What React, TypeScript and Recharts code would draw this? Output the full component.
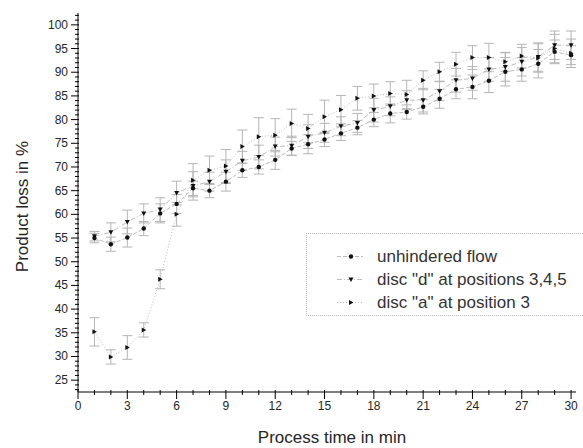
import { LineChart, Line, XAxis, YAxis, ErrorBar, Legend } from "recharts";

const times = [1, 2, 3, 4, 5, 6, 7, 8, 9, 10, 11, 12, 13, 14, 15, 16, 17, 18, 19, 20, 21, 22, 23, 24, 25, 26, 27, 28, 29, 30];

const unhindered = [55.0, 53.7, 55.1, 57.0, 60.2, 62.2, 65.5, 65.0, 66.9, 69.3, 70.0, 71.5, 73.9, 74.8, 75.8, 77.1, 78.3, 80.0, 81.3, 81.6, 82.7, 84.4, 86.4, 86.9, 88.2, 90.1, 90.6, 91.8, 94.3, 93.6];
const unhinderedErr = [1, 1.5, 2, 1.5, 2, 2, 1.5, 1.5, 2, 1.5, 1.5, 2, 1.5, 2, 1.5, 1.5, 1.5, 1.5, 2, 1.5, 1.5, 2, 2, 2.5, 2.5, 3, 2.5, 3, 2.5, 2];

const discD = [55.4, 56.2, 58.4, 60.2, 61.0, 64.5, 66.0, 66.9, 69.0, 71.3, 72.1, 74.3, 74.5, 76.4, 77.2, 78.6, 79.3, 82.0, 82.8, 84.1, 84.1, 86.0, 88.3, 88.7, 90.6, 91.1, 92.2, 93.2, 95.7, 95.7];
const discDErr = [1, 2, 2.5, 2, 2.5, 2.5, 3, 2, 2.5, 2, 2.5, 2, 2, 2.5, 2, 2, 2, 2.5, 2, 2, 2.5, 2, 2.5, 2.5, 2.5, 3, 3, 3, 3, 3];

const discA = [35.2, 29.9, 31.9, 35.6, 46.3, 60.0, 67.2, 69.3, 70.2, 74.3, 76.4, 76.7, 79.2, 78.1, 80.6, 82.1, 84.5, 85.0, 85.5, 85.3, 88.3, 90.1, 91.7, 93.1, 93.1, 92.2, 93.4, 93.0, 95.0, 94.0];
const discAErr = [3, 1.5, 2.5, 1.5, 2, 2.5, 3.5, 3, 3.5, 3.5, 4, 3.5, 3, 3, 3.5, 3, 2.5, 2.5, 2.5, 3, 2, 2, 2.5, 2.5, 3, 2, 2.5, 3, 3, 3];

const xTicks = Array.from({ length: 31 }, (_, i) => i);
const yTicks = Array.from({ length: 80 }, (_, i) => 23 + i);

const data = times.map((t, i) => ({
    t,
    u: unhindered[i],
    uErr: unhinderedErr[i],
    d: discD[i],
    dErr: discDErr[i],
    a: discA[i],
    aErr: discAErr[i],
}));

const series = [
    { key: "u", err: "uErr", name: "unhindered flow", shape: "circle", dash: "4 2" },
    { key: "d", err: "dErr", name: 'disc "d" at positions 3,4,5', shape: "down", dash: "5 2 1 2" },
    { key: "a", err: "aErr", name: 'disc "a" at position 3', shape: "right", dash: "1 2" },
];

const font = "Arial, 'Liberation Sans', sans-serif";
const textColor = "#262626";

function Marker({ cx, cy, shape }: { cx: number; cy: number; shape: string }) {
    if (shape === "down") {
        return <path d={`M${cx - 2.5},${cy - 2} L${cx + 2.5},${cy - 2} L${cx},${cy + 2.5} Z`} fill="#111" />;
    }
    if (shape === "right") {
        return <path d={`M${cx - 2},${cy - 2.5} L${cx + 2.5},${cy} L${cx - 2},${cy + 2.5} Z`} fill="#111" />;
    }
    return <circle cx={cx} cy={cy} r={2.2} fill="#111" />;
}

const dotFor = (shape: string) => (p: any) => {
    if (p.cx == null || p.cy == null) return <g key={p.key ?? p.index} />;
    return (
        <g key={p.key ?? p.index}>
            <Marker cx={p.cx} cy={p.cy} shape={shape} />
        </g>
    );
};

function XTick(props: any) {
    const { x, y, payload } = props;
    const major = payload.value % 3 === 0;
    return (
        <g>
            <line x1={x} x2={x} y1={y - 2} y2={y + (major ? 7 : 3)} stroke="#000" />
            {major && (
                <text x={x} y={y + 18} textAnchor="middle" fontSize={12} fontFamily={font} fill={textColor}>
                    {payload.value}
                </text>
            )}
        </g>
    );
}

function YTick(props: any) {
    const { x, y, payload } = props;
    const major = payload.value % 5 === 0;
    return (
        <g>
            <line x1={x - (major ? 7 : 3)} x2={x + 1} y1={y} y2={y} stroke="#000" />
            {major && (
                <text x={x - 10} y={y + 4} textAnchor="end" fontSize={12} fontFamily={font} fill={textColor}>
                    {payload.value}
                </text>
            )}
        </g>
    );
}

function LegendBox() {
    return (
        <div
            style={{
                borderTop: "1px dotted #bbb",
                borderLeft: "1px dotted #bbb",
                borderBottom: "1px dotted #bbb",
                paddingTop: 11,
                height: 70,
                overflow: "hidden",
                whiteSpace: "nowrap",
                fontFamily: font,
                fontSize: 17,
                color: "#333",
            }}
        >
            {series.map((s) => (
                <div key={s.key} style={{ height: 23, display: "flex", alignItems: "center" }}>
                    <svg width={70} height={23} style={{ flex: "none" }}>
                        <line x1={30} x2={56} y1={11.5} y2={11.5} stroke="#bbb" strokeDasharray={s.dash} />
                        <Marker cx={44} cy={11.5} shape={s.shape} />
                    </svg>
                    <span>{s.name}</span>
                </div>
            ))}
        </div>
    );
}

export default function App() {
    return (
        <div style={{ position: "absolute", left: 0, top: 0, background: "#fff" }}>
            <LineChart width={583} height={448} data={data} margin={{ top: 13, right: 7, left: 0, bottom: 0 }}>
                <XAxis
                    dataKey="t"
                    type="number"
                    domain={[0, 30.3]}
                    ticks={xTicks}
                    interval={0}
                    allowDataOverflow
                    tickLine={false}
                    tickSize={0}
                    tickMargin={0}
                    tick={<XTick />}
                    axisLine={{ stroke: "#000" }}
                    height={56}
                    label={{
                        value: "Process time in min",
                        position: "insideBottom",
                        offset: 5,
                        dx: 5,
                        fontSize: 17,
                        fontFamily: font,
                        fill: textColor,
                    }}
                />
                <YAxis
                    type="number"
                    domain={[22.5, 102.5]}
                    ticks={yTicks}
                    interval={0}
                    allowDataOverflow
                    tickLine={false}
                    tickSize={0}
                    tickMargin={0}
                    tick={<YTick />}
                    axisLine={{ stroke: "#000" }}
                    width={78}
                    label={{
                        content: (p: any) => {
                            const vb = p.viewBox || { y: 13, height: 379 };
                            const cy = vb.y + vb.height / 2 + 4;
                            return (
                                <text
                                    transform={`translate(22,${cy}) rotate(-90)`}
                                    textAnchor="middle"
                                    dominantBaseline="central"
                                    fontSize={17}
                                    fontFamily={font}
                                    fill={textColor}
                                >
                                    Product loss in %
                                </text>
                            );
                        },
                    }}
                />
                <Legend
                    layout="horizontal"
                    verticalAlign="middle"
                    align="center"
                    wrapperStyle={{ left: 306, top: 233, width: 277, height: 82 }}
                    content={<LegendBox />}
                />
                {series.map((s) => (
                    <Line
                        key={s.key}
                        dataKey={s.key}
                        name={s.name}
                        stroke="#bbb"
                        strokeWidth={1}
                        strokeDasharray={s.dash}
                        dot={dotFor(s.shape)}
                        activeDot={false}
                        isAnimationActive={false}
                    >
                        <ErrorBar dataKey={s.err} direction="y" width={5} stroke="#b5b5b5" strokeWidth={1} />
                    </Line>
                ))}
            </LineChart>
        </div>
    );
}
